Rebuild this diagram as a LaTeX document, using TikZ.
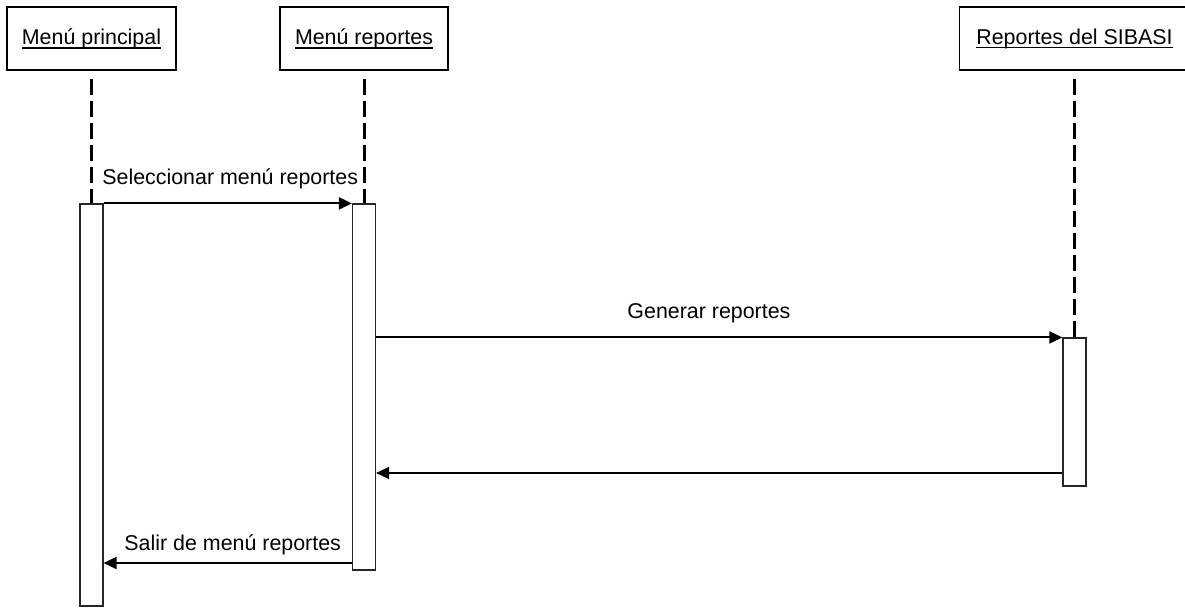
\documentclass[tikz,border=0pt]{standalone}
\usepackage{fontspec}
\setmainfont{Liberation Sans}
\usetikzlibrary{arrows.meta,positioning}

% underline through the descenders, as in the diagram
\newcommand{\ulname}[1]{\setbox0\hbox{#1}\rlap{\rule[-2.2pt]{\wd0}{0.9pt}}\box0}

\begin{document}
\begin{tikzpicture}[x=0.5pt, y=-0.5pt, >={Triangle[length=6.5pt, width=6pt]},
  every node/.style={font=\fontsize{10.7}{12.8}\selectfont},
  objbox/.style={draw, fill=white, line width=0.6pt, inner sep=0pt, minimum height=31.5pt},
  actbar/.style={draw=black!85, fill=white, line width=0.6pt, inner sep=0pt, minimum width=11.5pt},
  lifeline/.style={line width=1.5pt, dash pattern=on 8pt off 3pt, shorten <=4pt},
  msg/.style={->, line width=1pt},
  reply/.style={->, line width=0.8pt},
  msglabel/.style={inner sep=0pt, above=6.5pt}]
  \useasboundingbox (0,0) rectangle (1185,607);

  % 1. objetos
  \node[objbox, minimum width=84.5pt] (mp) at (91.5,38.5) {\ulname{Menú principal}};
  \node[objbox, minimum width=84pt] (mr) at (364,38.5) {\ulname{Menú reportes}};
  \node[objbox, minimum width=115pt] (rs) at (1074.5,38.5) {\ulname{Reportes del SIBASI}};

  % 2. barras de activacion
  \node[actbar, minimum height=201pt] (barMP) at (91.5,405) {};
  \node[actbar, minimum height=183pt] (barMR) at (364,387) {};
  \node[actbar, minimum height=74pt] (barRS) at (1074.5,412) {};

  % 3. lineas de vida
  \draw[lifeline] (mp.south) -- (barMP.north);
  \draw[lifeline] (mr.south) -- (barMR.north);
  \draw[lifeline] (rs.south) -- (barRS.north);

  % 4. mensajes
  \coordinate (back) at (barRS.west |- 0,473);
  \coordinate (leave) at (barMR.west |- 0,563);
  \draw[msg] (barMP.north east) -- (barMR.north west)
    node[msglabel, pos=0.51] {Seleccionar menú reportes};
  \draw[msg] (barMR.east |- barRS.north) -- (barRS.north west)
    node[msglabel, pos=0.485] {Generar reportes};
  \draw[reply] (back) -- (barMR.east |- back);
  \draw[msg] (leave) -- (barMP.east |- leave)
    node[msglabel, above=3.5pt, pos=0.48] {Salir de menú reportes};
\end{tikzpicture}
\end{document}
